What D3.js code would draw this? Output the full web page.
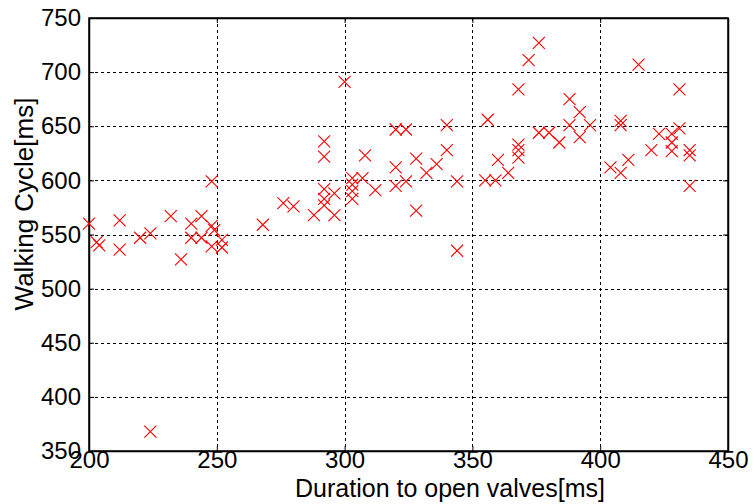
<!DOCTYPE html>
<html>
<head>
<meta charset="utf-8">
<script src="https://cdn.jsdelivr.net/npm/d3@7"></script>
<style>
  body { margin: 0; background: #fff; }
  svg { display: block; }
  text { font-family: "Liberation Sans", Arial, sans-serif; fill: #000; }
</style>
</head>
<body>
<svg width="755" height="504"></svg>
<script>
// duration to open valves [ms]
const duration = [
  200, 203, 204, 212, 212, 220, 224, 224, 232, 236,
  240, 240, 244, 244, 248, 248, 249, 248, 252, 252,
  268, 276, 280, 288, 292, 292, 292, 292, 292, 296,
  296, 300, 303, 303, 303, 303, 307, 308, 312, 320,
  324, 320, 320, 324, 328, 328, 332, 336, 340, 340,
  344, 344, 356, 355, 359, 360, 364, 368, 372, 376,
  368, 368, 368, 376, 380, 384, 388, 388, 392, 392,
  396, 404, 408, 408, 408, 411, 415, 420, 423, 428,
  428, 428, 431, 431, 435, 435, 435
];
// walking cycle [ms]
const cycle = [
  560, 543, 540, 563, 536, 547, 551, 368, 567, 527,
  560, 547, 567, 547, 599, 558, 554, 539, 545, 538,
  559, 579, 576, 568, 592, 583, 577, 636, 622, 588,
  568, 691, 602, 596, 590, 583, 602, 623, 591, 647,
  647, 612, 595, 599, 620, 572, 607, 615, 628, 651,
  599, 535, 656, 600, 600, 619, 607, 684, 711, 727,
  633, 628, 621, 644, 644, 635, 675, 651, 663, 640,
  651, 612, 655, 651, 607, 619, 707, 628, 643, 643,
  635, 627, 684, 648, 628, 623, 595
];
const xTicks = [200, 250, 300, 350, 400, 450];
const yTicks = [350, 400, 450, 500, 550, 600, 650, 700, 750];

const svg = d3.select("svg");
const plotL = 89, plotR = 728, plotT = 18, plotB = 451;

const x = d3.scaleLinear().domain([200, 450]).range([plotL, plotR]);
const y = d3.scaleLinear().domain([350, 750]).range([plotB, plotT]);

// dashed grid
const grid = svg.append("g")
  .attr("stroke", "#000")
  .attr("stroke-width", 1)
  .attr("stroke-dasharray", "3,3");
grid.selectAll(".gx")
  .data(xTicks.slice(1, -1))
  .join("line")
  .attr("x1", d => Math.round(x(d)) + 0.5)
  .attr("x2", d => Math.round(x(d)) + 0.5)
  .attr("y1", plotT).attr("y2", plotB);
grid.selectAll(".gy")
  .data(yTicks.slice(1, -1))
  .join("line")
  .attr("y1", d => Math.round(y(d)) + 0.5)
  .attr("y2", d => Math.round(y(d)) + 0.5)
  .attr("x1", plotL).attr("x2", plotR);

// axes, ticks pointing inwards
const fontSize = 24;
const xAxis = svg.append("g")
  .attr("transform", `translate(0,${plotB})`)
  .call(d3.axisBottom(x).tickValues(xTicks).tickSizeInner(-5).tickSizeOuter(0).tickPadding(3));
const yAxis = svg.append("g")
  .attr("transform", `translate(${plotL},0)`)
  .call(d3.axisLeft(y).tickValues(yTicks).tickSizeInner(-5).tickSizeOuter(0).tickPadding(8));
svg.append("g")
  .attr("transform", `translate(0,${plotT})`)
  .call(d3.axisTop(x).tickValues(xTicks).tickSizeInner(-5).tickSizeOuter(0).tickFormat(""));
svg.append("g")
  .attr("transform", `translate(${plotR},0)`)
  .call(d3.axisRight(y).tickValues(yTicks).tickSizeInner(-5).tickSizeOuter(0).tickFormat(""));

svg.selectAll(".domain").attr("stroke", "#000").attr("stroke-width", 1.5);
svg.selectAll(".tick line").attr("stroke", "#000");
svg.selectAll(".tick text")
  .style("font-family", "Liberation Sans, Arial, sans-serif")
  .attr("font-size", fontSize);
xAxis.selectAll(".tick text").attr("dy", "0.6em");

// box
svg.append("rect")
  .attr("x", plotL).attr("y", plotT)
  .attr("width", plotR - plotL).attr("height", plotB - plotT)
  .attr("fill", "none").attr("stroke", "#000").attr("stroke-width", 1.5);

// red x markers
const s = 6;
svg.append("g")
  .attr("stroke", "#ff0000")
  .attr("stroke-width", 1.1)
  .selectAll("path")
  .data(d3.zip(duration, cycle))
  .join("path")
  .attr("d", d => {
    const cx = x(d[0]), cy = y(d[1]);
    return `M${cx - s},${cy - s}L${cx + s},${cy + s}M${cx - s},${cy + s}L${cx + s},${cy - s}`;
  });

// axis titles
svg.append("text")
  .attr("x", 450)
  .attr("y", 497)
  .attr("text-anchor", "middle")
  .attr("font-size", 25)
  .text("Duration to open valves[ms]");

svg.append("text")
  .attr("transform", `translate(33,204) rotate(-90)`)
  .attr("text-anchor", "middle")
  .attr("font-size", 26)
  .text("Walking Cycle[ms]");
</script>
</body>
</html>
